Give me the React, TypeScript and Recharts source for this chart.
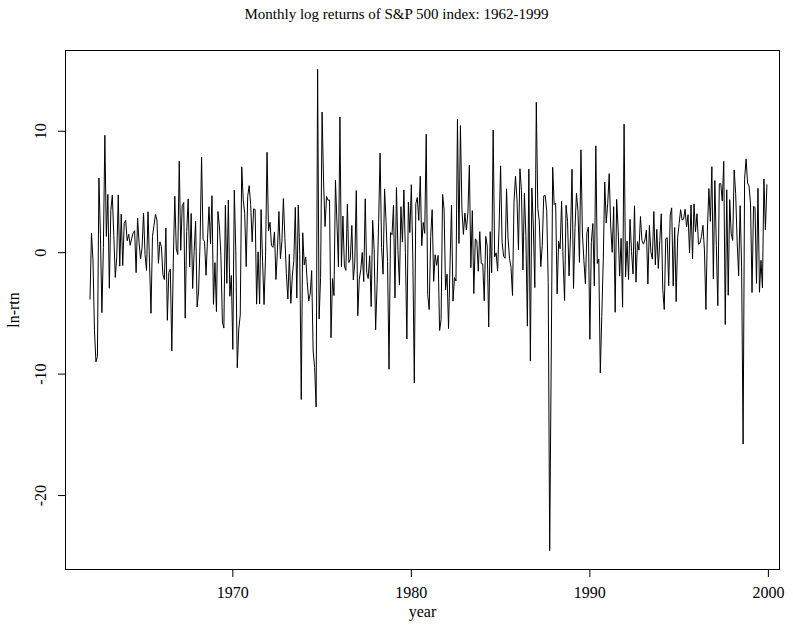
import { LineChart, Line, XAxis, YAxis } from 'recharts';

// monthly log returns (percent) of the S&P 500, Jan 1962 .. Dec 1999
const START_YEAR = 1962;

const returns1960s = [
  -3.86, 1.61, -0.59, -6.40, -8.99, -8.54, 6.16, 1.52, -4.94, 0.44, 9.67, 1.34,
  4.80, -2.93, 3.49, 4.74, 1.42, -2.04, -0.35, 4.76, -1.11, 3.17, -1.06, 2.41,
  2.66, 0.98, 1.51, 0.61, 1.14, 1.63, 1.81, -1.64, 2.83, 0.80, -0.52, 0.39,
  3.26, -0.15, -1.46, 3.37, -0.78, -4.99, 1.33, 2.23, 3.15, 2.70, -0.88, 0.89,
  0.49, -1.80, -2.21, 2.03, -5.57, -1.63, -1.35, -8.09, -0.70, 4.65, 0.31, -0.15,
  7.53, 0.20, 3.87, 4.14, -5.39, 1.74, 4.43, -1.18, 3.23, -2.95, 0.11, 2.59,
  -4.48, -3.17, 0.94, 7.87, 1.11, 0.91, -1.86, 1.14, 3.78, 0.72, 4.69, -4.25,
  -0.82, -4.85, 3.39, 2.12, -0.22, -5.72, -6.21, 3.93, -2.53, 4.33, -3.59, -1.88,
];

const returns1970s = [
  -7.96, 5.14, 0.15, -9.48, -6.29, -5.13, 7.07, 4.35, 3.25, -1.15, 4.64, 5.52,
  3.97, 0.90, 3.61, 3.56, -4.24, 0.07, -4.22, 3.55, -0.70, -4.27, -0.26, 8.27,
  1.80, 2.50, 0.59, 0.44, 1.71, -2.21, 0.23, 3.39, -0.49, 0.93, 4.46, 1.18,
  -1.73, -3.82, -0.14, -4.17, -1.91, -0.66, 3.73, -3.74, 3.93, -0.13, -12.09, 1.64,
  -1.01, -0.36, -2.36, -3.98, -3.41, -1.48, -8.10, -9.46, -12.71, 15.10, -5.46, -2.04,
  11.58, 5.82, 2.15, 4.62, 4.32, 4.34, -7.00, -2.13, -3.53, 5.98, 2.44, -1.16,
  11.18, -1.15, 3.02, -1.11, -1.45, 4.01, -0.81, -0.51, 2.24, -2.25, -0.78, 5.12,
  -5.19, -2.19, -1.41, 0.02, -2.38, 4.44, -1.64, -2.13, -0.25, -4.44, 2.66, 0.28,
  -6.35, -2.51, 2.46, 8.20, 0.42, -1.77, 5.25, 2.56, -0.73, -9.60, 1.65, 1.48,
  3.90, -3.72, 5.37, 0.17, -2.67, 3.79, 0.87, 5.17, 0.00, -7.11, 4.17, 1.66,
];

const returns1980s = [
  5.60, -0.44, -10.74, 4.03, 4.55, 2.66, 6.30, 0.58, 2.49, 1.59, 9.75, -3.45,
  -4.68, 1.32, 3.54, -2.37, -0.17, -1.05, -0.22, -6.41, -5.53, 4.80, 3.59, -3.05,
  -1.77, -6.25, -1.02, 3.92, -3.99, -2.05, -2.33, 10.97, 0.76, 10.47, 3.55, 1.50,
  3.26, 1.88, 3.26, 7.22, -1.24, 3.46, -3.36, 1.13, 1.01, -1.53, 1.73, -0.89,
  -0.93, -3.96, 1.34, 0.55, -6.12, 1.73, -1.66, 10.10, -0.35, -0.01, -1.52, 2.21,
  7.15, 0.86, -0.29, -0.46, 5.26, 1.21, -0.49, -1.21, -3.53, 4.16, 6.30, 4.41,
  0.24, 6.91, 5.14, -1.43, 4.90, 1.40, -6.05, 6.88, -8.93, 5.33, 2.12, -2.87,
  12.38, 3.63, 2.60, -1.15, 0.60, 4.68, 4.71, 3.44, -2.45, -24.54, -8.92, 7.03,
  3.96, 4.10, -3.39, 0.94, 0.32, 4.23, -0.54, -3.94, 3.90, 2.56, -1.91, 1.46,
  6.87, -2.94, 2.06, 4.89, 3.45, -0.80, 8.47, 1.54, -0.66, -2.55, 1.64, 2.12,
];

const returns1990s = [
  -7.13, 0.85, 2.40, -2.73, 8.80, -0.89, -0.52, -9.91, -5.25, -0.67, 5.82, 2.45,
  4.07, 6.51, 2.20, 0.03, 3.79, -4.91, 4.39, 1.95, -1.93, 1.18, -4.49, 10.58,
  -2.01, 0.95, -2.21, 2.75, 0.10, -1.75, 3.86, -2.43, 0.91, 0.21, 2.98, 1.01,
  0.70, 1.04, 1.85, -2.57, 2.25, 0.08, -0.53, 3.39, -1.00, 1.92, -1.30, 1.00,
  3.20, -3.05, -4.68, 1.15, 1.23, -2.72, 3.10, 3.69, -2.73, 2.07, -4.03, 1.22,
  2.40, 3.54, 2.70, 2.76, 3.57, 2.11, 3.13, -0.03, 3.93, -0.50, 4.02, 1.73,
  3.21, 0.69, 0.79, 1.33, 2.26, 0.23, -4.68, 1.86, 5.28, 2.58, 7.08, -2.17,
  5.95, 0.59, -4.36, 5.68, 5.69, 4.25, 7.52, -5.92, 5.18, -3.51, 4.36, 1.56,
  1.01, 6.81, 4.87, 0.90, -1.90, 3.87, -1.17, -15.76, 6.05, 7.72, 5.74, 5.48,
  4.02, -3.28, 3.81, 3.72, -2.53, 5.30, -3.26, -0.63, -2.90, 6.07, 1.89, 5.62,
];

const xTicks = [1970, 1980, 1990, 2000];
const yTicks = [-20, -10, 0, 10];

const allReturns = [...returns1960s, ...returns1970s, ...returns1980s, ...returns1990s];
const data = allReturns.map((r, i) => ({ t: START_YEAR + i / 12, rtn: r }));

const X_DOMAIN = [1960.6, 2000.65];
const Y_DOMAIN = [-26.13, 16.69];

const W = 793;
const H = 630;
const PLOT = { left: 65, top: 50, right: 780, bottom: 570 };
const FONT = '"Liberation Serif", "DejaVu Serif", serif';

const XTick = ({ x, payload }: any) => (
  <text x={x} y={PLOT.bottom + 22} textAnchor="middle" dominantBaseline="central"
    fontSize={16} fontFamily={FONT} fill="#000">{payload.value}</text>
);

const YTick = ({ y, payload }: any) => {
  const cx = PLOT.left - 24;
  return (
    <text x={cx} y={y} transform={`rotate(-90 ${cx} ${y})`} textAnchor="middle" dominantBaseline="central"
      fontSize={16} fontFamily={FONT} fill="#000">{payload.value}</text>
  );
};

export default function App() {
  return (
    <div style={{ position: 'relative', width: W, height: H, background: '#fff', fontFamily: FONT }}>
      <style>{`body { margin: 0; }`}</style>
      <div style={{ position: 'absolute', left: 0, width: W, top: 6, textAlign: 'center', fontSize: 15, color: '#000' }}>
        Monthly log returns of S&amp;P 500 index: 1962-1999
      </div>
      <LineChart width={W} height={H} data={data}
        margin={{ top: PLOT.top, right: W - PLOT.right, left: 0, bottom: 0 }}>
        <XAxis dataKey="t" type="number" domain={X_DOMAIN} ticks={xTicks} allowDataOverflow
          axisLine={false} tickLine={{ stroke: '#000' }} tickSize={7} height={H - PLOT.bottom} tick={<XTick />} />
        <YAxis type="number" domain={Y_DOMAIN} ticks={yTicks} allowDataOverflow
          axisLine={false} tickLine={{ stroke: '#000' }} tickSize={7} width={PLOT.left} tick={<YTick />} />
        <Line type="linear" dataKey="rtn" stroke="#000" strokeWidth={1} dot={false} isAnimationActive={false} />
      </LineChart>
      <div style={{ position: 'absolute', left: PLOT.left, top: PLOT.top, width: PLOT.right - PLOT.left,
        height: PLOT.bottom - PLOT.top, border: '1px solid #000', boxSizing: 'border-box', pointerEvents: 'none' }} />
      <div style={{ position: 'absolute', left: 0, width: W, top: PLOT.bottom + 33, textAlign: 'center',
        fontSize: 16, color: '#000', paddingLeft: PLOT.left - (W - PLOT.right), boxSizing: 'border-box' }}>
        year
      </div>
      <div style={{ position: 'absolute', left: 14, top: (PLOT.top + PLOT.bottom) / 2, fontSize: 16, color: '#000',
        transform: 'translate(-50%, -50%) rotate(-90deg)', whiteSpace: 'nowrap' }}>
        ln-rtn
      </div>
    </div>
  );
}
